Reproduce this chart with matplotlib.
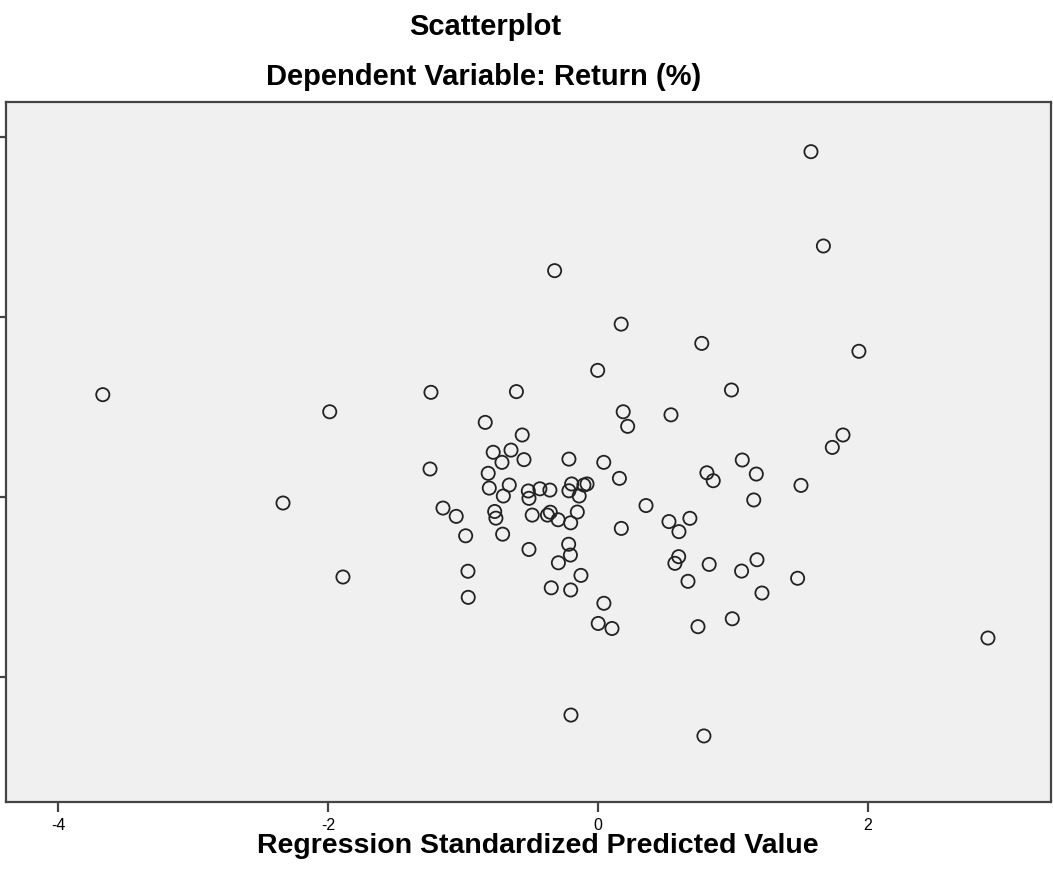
import matplotlib
matplotlib.use("Agg")
import matplotlib.pyplot as plt

# Regression standardized predicted value (x) and Return (%) (y)
pred_std = [1.578, 1.670, -0.321, 0.172, 0.769, 1.933, -0.002, -3.668, -1.237, -0.604,
            0.989, -1.987, 0.187, 0.541, 0.220, -0.835, 1.815, 1.736, -0.561, -0.776,
            -0.644, -0.711, -0.548, -0.215, 0.043, 1.069, 1.173, -1.244, 0.807, 0.854,
            -0.813, 0.159, 1.504, -0.805, -0.657, -0.701, -0.516, -0.430, -0.356, -0.195,
            -0.215, -0.139, -0.104, -0.081, -0.511, 1.154, -2.333, 0.356, -1.148, -1.050,
            -0.765, -0.756, -0.487, -0.353, -0.374, -0.295, -0.153, -0.202, 0.526, 0.681,
            0.600, 0.173, -0.980, -0.706, -0.217, -0.511, -0.204, -0.293, 0.598, 0.570,
            0.824, 1.178, 1.064, -0.963, -1.889, -0.126, 0.667, 1.479, -0.346, -0.202,
            -0.961, 1.215, 0.044, 0.002, 0.104, 0.741, 0.995, 2.889, -0.200, 0.785]
returns = [29.17, 23.93, 22.56, 19.59, 18.52, 18.08, 17.02, 15.67, 15.80, 15.84,
           15.93, 14.72, 14.72, 14.55, 13.91, 14.13, 13.43, 12.74, 13.43, 12.47,
           12.59, 11.91, 12.06, 12.09, 11.91, 12.04, 11.26, 11.54, 11.33, 10.89,
           11.30, 11.02, 10.63, 10.48, 10.65, 10.04, 10.32, 10.44, 10.37, 10.71,
           10.33, 10.04, 10.65, 10.71, 9.91, 9.82, 9.65, 9.51, 9.37, 8.91,
           9.18, 8.81, 8.98, 9.14, 8.98, 8.72, 9.15, 8.55, 8.62, 8.80,
           8.06, 8.24, 7.83, 7.92, 7.36, 7.07, 6.76, 6.33, 6.67, 6.30,
           6.24, 6.50, 5.87, 5.86, 5.54, 5.63, 5.30, 5.47, 4.94, 4.82,
           4.41, 4.65, 4.08, 2.96, 2.68, 2.78, 3.22, 2.15, -2.13, -3.29]

x_ticks = [-4, -2, 0, 2]
x_tick_labels = ["-4", "-2", "0", "2"]
y_ticks = [0, 10, 20, 30]

title = "Scatterplot"
subtitle = "Dependent Variable: Return (%)"
xlabel = "Regression Standardized Predicted Value"

plt.rcParams['font.family'] = ['Liberation Sans', 'DejaVu Sans']

fig = plt.figure(figsize=(10.53, 8.89), dpi=100)
ax = fig.add_axes([6/1053, 87/889, 1045/1053, 700/889])
ax.set_facecolor("#f0f0f0")

ax.scatter(pred_std, returns, s=90, facecolors="none", edgecolors="#222222",
           linewidths=1.3, zorder=3)

ax.set_xlim(-4.385, 3.356)
ax.set_ylim(-6.96, 31.93)
ax.set_xticks(x_ticks)
ax.set_xticklabels(x_tick_labels, fontsize=11.5)
ax.set_yticks(y_ticks)
ax.set_yticklabels([""] * len(y_ticks))

for sp in ax.spines.values():
    sp.set_color("#444444")
    sp.set_linewidth(1.6)
ax.tick_params(axis="x", direction="out", length=7.5, width=1.6, color="#444444", pad=4)
ax.tick_params(axis="y", direction="out", length=5, width=1.6, color="#444444")

fig.text(485/1053, 1 - 27/889, title, ha="center", va="center",
         fontsize=21, fontweight="bold")
fig.text(484/1053, 1 - 77/889, subtitle, ha="center", va="center",
         fontsize=21, fontweight="bold")
fig.text(538/1053, 1 - 846/889, xlabel, ha="center", va="center",
         fontsize=20.5, fontweight="bold")

fig.savefig("out.png", dpi=100)
